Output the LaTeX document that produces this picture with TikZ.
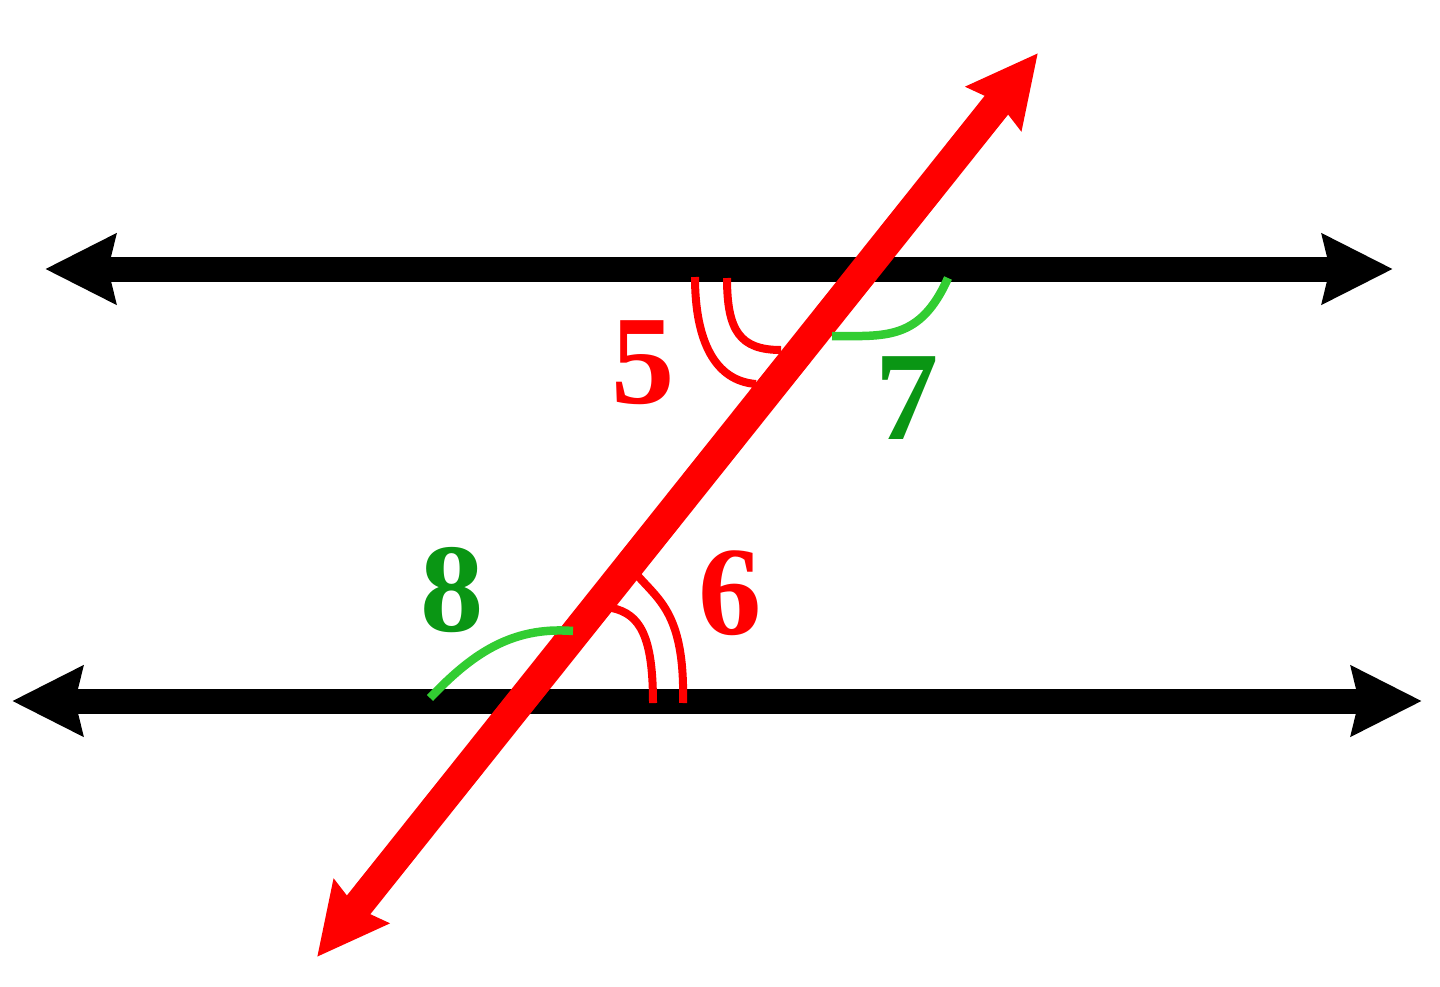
\documentclass[tikz,border=0pt]{standalone}
\usepackage{fontspec}
\setmainfont{Liberation Serif}
\usetikzlibrary{arrows.meta}

\definecolor{linered}{RGB}{255,0,0}
\definecolor{markgreen}{RGB}{50,205,50}
\definecolor{labelgreen}{RGB}{10,150,20}

\tikzset{
    >={Stealth[length=7mm,width=6.8mm,inset=0.7mm]},
    parline/.style={line width=2.5mm, <->},
    crossline/.style={line width=3mm, linered, <->},
    redmark/.style={line width=0.8mm, linered},
    greenmark/.style={line width=0.85mm, markgreen},
    anglenum/.style={inner sep=0pt, font=\fontsize{36}{40}\selectfont\bfseries}
}

\begin{document}
\begin{tikzpicture}
        % Поле рисунка
        \useasboundingbox (0,0) rectangle (14.4,9.86);

        % Концы прямых
        \coordinate (topL) at (0.45,7.17);
        \coordinate (topR) at (13.93,7.17);
        \coordinate (botL) at (0.12,2.85);
        \coordinate (botR) at (14.22,2.85);
        \coordinate (crossB) at (3.17,0.29);
        \coordinate (crossT) at (10.38,9.33);

        % Параллельные прямые
        \draw[parline] (topL) -- (topR);
        \draw[parline] (botL) -- (botR);

        % Секущая
        \draw[crossline] (crossB) -- (crossT);

        % Угол 5 (двойная дуга)
        \draw[redmark] (6.95,7.09) .. controls (6.95,6.45) and (7.15,6.05) .. (7.56,6.02);
        \draw[redmark] (7.27,7.08) .. controls (7.27,6.55) and (7.4,6.36) .. (7.81,6.36);

        % Угол 7
        \draw[greenmark] (8.32,6.5) .. controls (8.85,6.5) and (9.2,6.45) .. (9.48,7.08);

        % Угол 8
        \draw[greenmark] (4.3,2.88) .. controls (4.7,3.3) and (5.1,3.6) .. (5.73,3.55);

        % Угол 6 (двойная дуга)
        \draw[redmark] (6.83,2.83) .. controls (6.85,3.7) and (6.6,3.85) .. (6.38,4.1);
        \draw[redmark] (6.53,2.83) .. controls (6.53,3.5) and (6.4,3.72) .. (6.12,3.78);

        % Номера углов
        \node[anglenum, linered] (num5) at (6.43,6.23) {5};
        \node[anglenum, labelgreen] (num7) at (9.07,5.88) {7};
        \node[anglenum, labelgreen] (num8) at (4.52,3.96) {8};
        \node[anglenum, linered] (num6) at (7.30,3.93) {6};
    \end{tikzpicture}
\end{document}
